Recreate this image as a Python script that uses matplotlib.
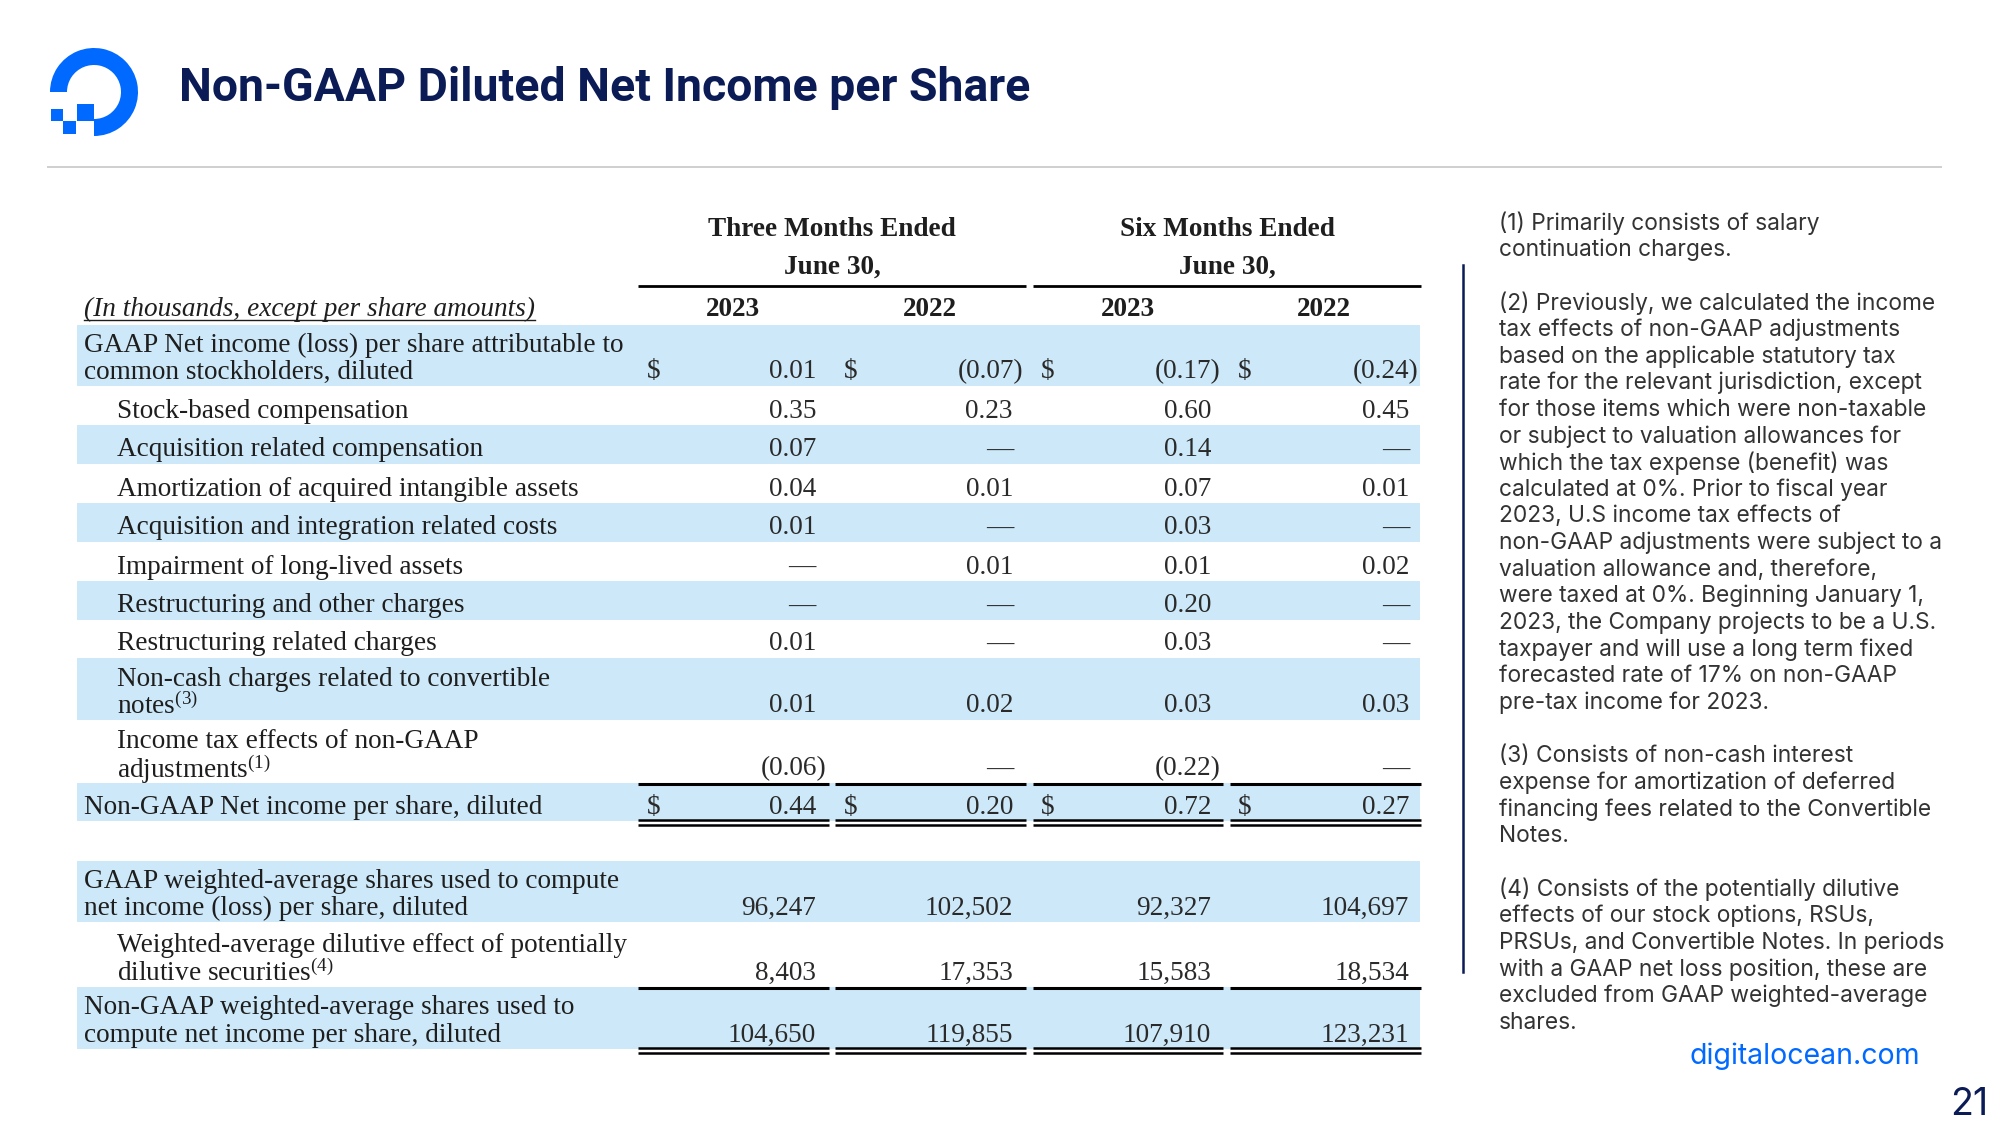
import matplotlib
matplotlib.use("Agg")
import matplotlib.pyplot as plt
from matplotlib.patches import Rectangle, Wedge

plt.rcParams['mathtext.fontset'] = 'custom'
plt.rcParams['mathtext.rm'] = 'Liberation Serif'
plt.rcParams['mathtext.it'] = 'Liberation Serif:italic'

# ---------------- data ----------------
title = "Non-GAAP Diluted Net Income per Share"
period_headers = ["Three Months Ended", "Six Months Ended"]
period_sub = "June 30,"
years = ["2023", "2022", "2023", "2022"]
units_note = "(In thousands, except per share amounts)"

ps_labels = [
    ["GAAP Net income (loss) per share attributable to", "common stockholders, diluted"],
    ["Stock-based compensation"],
    ["Acquisition related compensation"],
    ["Amortization of acquired intangible assets"],
    ["Acquisition and integration related costs"],
    ["Impairment of long-lived assets"],
    ["Restructuring and other charges"],
    ["Restructuring related charges"],
    ["Non-cash charges related to convertible", r"notes$^{\mathrm{(3)}}$"],
    ["Income tax effects of non-GAAP", r"adjustments$^{\mathrm{(1)}}$"],
    ["Non-GAAP Net income per share, diluted"],
]
ps_indent = [0, 1, 1, 1, 1, 1, 1, 1, 1, 1, 0]
three_2023 = [0.01, 0.35, 0.07, 0.04, 0.01, None, None, 0.01, 0.01, -0.06, 0.44]
three_2022 = [-0.07, 0.23, None, 0.01, None, 0.01, None, None, 0.02, None, 0.20]
six_2023 = [-0.17, 0.60, 0.14, 0.07, 0.03, 0.01, 0.20, 0.03, 0.03, -0.22, 0.72]
six_2022 = [-0.24, 0.45, None, 0.01, None, 0.02, None, None, 0.03, None, 0.27]
dollar_rows = [0, 10]

sh_labels = [
    ["GAAP weighted-average shares used to compute", "net income (loss) per share, diluted"],
    ["Weighted-average dilutive effect of potentially", r"dilutive securities$^{\mathrm{(4)}}$"],
    ["Non-GAAP weighted-average shares used to", "compute net income per share, diluted"],
]
sh_indent = [0, 1, 0]
gaap_shares = [96247, 102502, 92327, 104697]
dilutive_shares = [8403, 17353, 15583, 18534]
nongaap_shares = [104650, 119855, 107910, 123231]

footnotes = [
    "(1) Primarily consists of salary",
    "continuation charges.",
    "",
    "(2) Previously, we calculated the income",
    "tax effects of non-GAAP adjustments",
    "based on the applicable statutory tax",
    "rate for the relevant jurisdiction, except",
    "for those items which were non-taxable",
    "or subject to valuation allowances for",
    "which the tax expense (benefit) was",
    "calculated at 0%. Prior to fiscal year",
    "2023, U.S income tax effects of",
    "non-GAAP adjustments were subject to a",
    "valuation allowance and, therefore,",
    "were taxed at 0%. Beginning January 1,",
    "2023, the Company projects to be a U.S.",
    "taxpayer and will use a long term fixed",
    "forecasted rate of 17% on non-GAAP",
    "pre-tax income for 2023.",
    "",
    "(3) Consists of non-cash interest",
    "expense for amortization of deferred",
    "financing fees related to the Convertible",
    "Notes.",
    "",
    "(4) Consists of the potentially dilutive",
    "effects of our stock options, RSUs,",
    "PRSUs, and Convertible Notes. In periods",
    "with a GAAP net loss position, these are",
    "excluded from GAAP weighted-average",
    "shares.",
]
site = "digitalocean.com"
page = "21"

# ---------------- style ----------------
NAVY = '#0A1B55'
BLUE = '#0069FF'
BAND = '#CDE9F9'
TXT = '#1E1E1E'
SERIF = 'Liberation Serif'
FS = 19.6  # table font size (pt)
DY = 3     # vertical text nudge (px)

W, H = 2000, 1125
fig = plt.figure(figsize=(20, 11.25), dpi=100)
ax = fig.add_axes([0, 0, 1, 1])
ax.set_xlim(0, W)
ax.set_ylim(H, 0)
ax.axis('off')

# ---------------- logo ----------------
cx, cy = 94, 92
ax.add_patch(Wedge((cx, cy), 44, 180, 450, width=17, color=BLUE, lw=0))
ax.add_patch(Rectangle((77, 104), 17, 17, color=BLUE, lw=0))
ax.add_patch(Rectangle((63, 121), 13, 13, color=BLUE, lw=0))
ax.add_patch(Rectangle((51, 109), 12, 12, color=BLUE, lw=0))

ax.text(179, 101, title, fontsize=33.4, fontweight='bold', family='Roboto',
        color=NAVY, va='baseline', ha='left')
ax.plot([48, 1941], [167, 167], color='#CFCFCF', lw=1.4)

# ---------------- table ----------------
tab_x0, tab_x1 = 77, 1420
seg = [(638, 829), (835, 1026), (1033, 1223), (1230, 1421)]
col_right = [816, 1013, 1211, 1409]
dollar_x = [647, 844, 1041, 1238]
year_x = [733, 930, 1128, 1324]
label_x = [84, 117]

# headers
for i, hdr in enumerate(period_headers):
    xc = (seg[2 * i][0] + seg[2 * i + 1][1]) / 2
    ax.text(xc, 226 + DY, hdr, family=SERIF, fontweight='bold', fontsize=FS, color=TXT,
            ha='center', va='center')
    ax.text(xc, 264 + DY, period_sub, family=SERIF, fontweight='bold', fontsize=FS, color=TXT,
            ha='center', va='center')
    ax.plot([seg[2 * i][0], seg[2 * i + 1][1]], [286, 286], color='black', lw=2.0,
            solid_capstyle='butt')
for x, y in zip(year_x, years):
    ax.text(x, 306 + DY, y, family=SERIF, fontweight='bold', fontsize=FS, color=TXT,
            ha='center', va='center')
unit_t = ax.text(label_x[0], 306 + DY, units_note, family=SERIF, style='italic', fontsize=FS,
                 color=TXT, ha='left', va='center')

ps_heights = [61, 39, 39, 39, 39, 39, 39, 38, 62, 63, 38]
sh_heights = [61, 65, 62]
ps_top = 325
sh_top = 861


def fmt_ps(v):
    if v is None:
        return "—"
    if v < 0:
        return "(%.2f)" % (-v)
    return "%.2f" % v


def draw_row(top, h, band, lines, indent, values, dollars):
    bottom = top + h
    if band:
        ax.add_patch(Rectangle((tab_x0, top), tab_x1 - tab_x0, h, color=BAND, lw=0, zorder=0))
    ylast = bottom - 17 + DY
    n = len(lines)
    for k, ln in enumerate(lines):
        ax.text(label_x[indent], ylast - 27 * (n - 1 - k), ln, family=SERIF, fontsize=FS,
                color=TXT, ha='left', va='center')
    for j, s in enumerate(values):
        xr = col_right[j] + (10 if s.endswith(')') else 0)
        ax.text(xr, ylast, s, family=SERIF, fontsize=FS, color='#2A2A2A',
                ha='right', va='center')
        if dollars:
            ax.text(dollar_x[j], ylast, "$", family=SERIF, fontsize=FS, color='#2A2A2A',
                    ha='left', va='center')
    return bottom


def hlines(y, lw=2.2):
    for a, b in seg:
        ax.plot([a, b], [y, y], color='black', lw=lw, solid_capstyle='butt', zorder=3)


y = ps_top
cols = [three_2023, three_2022, six_2023, six_2022]
for i, lab in enumerate(ps_labels):
    vals = [fmt_ps(c[i]) for c in cols]
    if i == len(ps_labels) - 1:
        hlines(y + 0.5)
    y = draw_row(y, ps_heights[i], i % 2 == 0, lab, ps_indent[i], vals, i in dollar_rows)
hlines(y - 1.5, 1.8)
hlines(y + 4, 1.8)

y = sh_top
sh_vals = [gaap_shares, dilutive_shares, nongaap_shares]
for i, lab in enumerate(sh_labels):
    vals = ["{:,}".format(v) for v in sh_vals[i]]
    if i == len(sh_labels) - 1:
        hlines(y + 0.5)
    y = draw_row(y, sh_heights[i], i % 2 == 0, lab, sh_indent[i], vals, False)
hlines(y - 1.5, 1.8)
hlines(y + 4, 1.8)

# underline for unit note
fig.canvas.draw()
bb = unit_t.get_window_extent()
inv = ax.transData.inverted()
(ux0, _), (ux1, _) = inv.transform([(bb.x0, bb.y0), (bb.x1, bb.y0)])
ax.plot([ux0, ux1], [320, 320], color=TXT, lw=1.0)

# ---------------- footnotes ----------------
ax.plot([1463, 1463], [265, 972], color=NAVY, lw=1.8)
fy0, fdy = 223, 26.66
for k, ln in enumerate(footnotes):
    if ln:
        ax.text(1499, fy0 + k * fdy, ln, family='Inter', fontsize=16.4, color='#333333',
                ha='left', va='center')
ax.text(1920, 1056, site, family='Inter', fontsize=20.5, color=BLUE, ha='right', va='center')
ax.text(1988, 1123, page, family='Inter', fontsize=27, color=NAVY, ha='right', va='bottom')

fig.savefig('out.png', dpi=100, facecolor='white')
